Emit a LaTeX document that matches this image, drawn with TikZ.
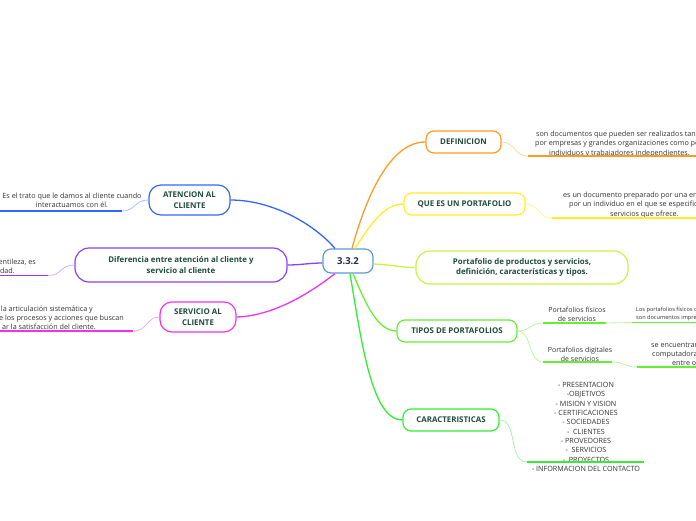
\documentclass[tikz,border=0pt]{standalone}
\usepackage{fontspec}
\setmainfont{Open Sans}
\definecolor{cblue}{HTML}{3366FF}
\definecolor{cpurple}{HTML}{8A3FFC}
\definecolor{cmag}{HTML}{EE33EE}
\definecolor{corange}{HTML}{FF9A22}
\definecolor{cyellow}{HTML}{FFEE22}
\definecolor{clime}{HTML}{C8F542}
\definecolor{cgreen}{HTML}{66EE33}
\definecolor{cgreen2}{HTML}{33EE33}
\definecolor{ccenter}{HTML}{5B9BD5}
\definecolor{boxtext}{HTML}{1E4D3B}
\definecolor{navytext}{HTML}{1F2D4D}
\definecolor{ctext}{HTML}{333333}
\begin{document}
\begin{tikzpicture}[x=1pt,y=-1pt,
  topic/.style={draw, line width=1.2pt, rounded corners=8pt, fill=white, text=boxtext,
    font=\fontsize{7.9}{10.5}\selectfont\bfseries, align=center, inner sep=0pt},
  leaf/.style={text=ctext, font=\fontsize{7.2}{9.2}\selectfont, inner sep=0pt},
  mainline/.style={line width=1.3pt},
  subline/.style={line width=0.8pt},
  uline/.style={line width=1.8pt}]
\useasboundingbox (0,0) rectangle (696,520);
\clip (0,0) rectangle (696,520);

% ---------- topic nodes ----------
\node[topic, draw=ccenter, text=navytext, font=\fontsize{9.5}{11}\selectfont\bfseries,
  minimum width=50pt, minimum height=24pt] (c) at (348,261) {3.3.2};
\node[topic, draw=cblue, rounded corners=12pt, minimum width=81pt, minimum height=30pt]
  (aten) at (189.5,200) {ATENCION AL\\CLIENTE};
\node[topic, draw=cpurple, rounded corners=14pt, minimum width=212pt, minimum height=34pt]
  (dif) at (181,265) {Diferencia entre atención al cliente y\\servicio al cliente};
\node[topic, draw=cmag, rounded corners=12pt, minimum width=76pt, minimum height=30pt]
  (serv) at (198,317) {SERVICIO AL\\CLIENTE};
\node[topic, draw=corange, minimum width=75pt, minimum height=22pt]
  (def) at (463.5,142) {DEFINICION};
\node[topic, draw=cyellow, minimum width=121pt, minimum height=22pt]
  (que) at (464.5,204) {QUE ES UN PORTAFOLIO};
\node[topic, draw=clime, rounded corners=14pt, minimum width=212pt, minimum height=33pt]
  (port) at (522,267.5) {Portafolio de productos y servicios,\\definición, características y tipos.};
\node[topic, draw=cgreen, minimum width=120pt, minimum height=22pt]
  (tipos) at (457,331) {TIPOS DE PORTAFOLIOS};
\node[topic, draw=cgreen2, minimum width=96pt, minimum height=22pt]
  (carac) at (451,420) {CARACTERISTICAS};

% ---------- connectors from centre ----------
\draw[mainline, cblue] ([xshift=-13pt]c.north) .. controls (312,222) and (270,200) .. (aten.east);
\draw[mainline, cpurple] ([yshift=-2pt]c.west) .. controls (310,263) and (300,265) .. (dif.east);
\draw[mainline, cmag] ([xshift=-13pt]c.south) .. controls (305,297) and (270,316) .. (serv.east);
\draw[mainline, corange] ([xshift=4pt]c.north) .. controls (368,190) and (392,142) .. (def.west);
\draw[mainline, cyellow] ([xshift=7pt]c.north) .. controls (372,222) and (385,204) .. (que.west);
\draw[mainline, clime] ([yshift=-3pt]c.east) .. controls (395,265) and (400,267.5) .. (port.west);
\draw[mainline, cgreen] ([xshift=5pt]c.south) .. controls (366,305) and (378,331) .. (tipos.west);
\draw[mainline, cgreen2] ([xshift=2pt]c.south) .. controls (362,345) and (372,420) .. (carac.west);

% ---------- left leaves ----------
\node[leaf, align=center] (atenT) at (72,200.5)
  {Es el trato que le damos al cliente cuando\\interactuamos con él.};
\coordinate (atenU1) at (122,211);
\coordinate (atenU0) at (-3,211);
\draw[uline, cblue] (atenU1) -- (atenU0);
\draw[subline, cblue!40] (aten.west) .. controls (134,200) and (136,211) .. (atenU1);

\node[leaf, align=right, anchor=east] (difT) at (36,266)
  {entileza, es\\idad.\kern21pt};
\coordinate (difU1) at (48,275.5);
\coordinate (difU0) at (-3,275.5);
\draw[uline, cpurple] (difU1) -- (difU0);
\draw[subline, cpurple!40] (dif.west) .. controls (60,265) and (62,275.5) .. (difU1);

\node[leaf, align=right, anchor=east] (servT) at (124,317.5)
  {la articulación sistemática y\kern31pt\\e los procesos y acciones que buscan\\ar la satisfacción del cliente.\kern28pt};
\coordinate (servU1) at (133,331);
\coordinate (servU0) at (-3,331);
\draw[uline, cmag] (servU1) -- (servU0);
\draw[subline, cmag!40] (serv.west) .. controls (146,317) and (148,331) .. (servU1);

% ---------- right leaves ----------
\node[leaf, align=left, anchor=west] (defT) at (535,144)
  {\mbox{}\kern1pt son documentos que pueden ser realizados tanto\\por empresas y grandes organizaciones como por\\\mbox{}\kern14pt individuos y trabajadores independientes.};
\coordinate (defU0) at (528,156);
\coordinate (defU1) at (700,156);
\draw[uline, corange] (defU0) -- (defU1);
\draw[subline, corange!40] (def.east) .. controls (515,142) and (514,156) .. (defU0);

\node[leaf, align=left, anchor=west] (queT) at (563,205)
  {es un documento preparado por una empresa o\\\mbox{}\kern6pt por un individuo en el que se especifican los\\\mbox{}\kern47pt servicios que ofrece.};
\coordinate (queU0) at (552,218);
\coordinate (queU1) at (700,218);
\draw[uline, cyellow] (queU0) -- (queU1);
\draw[subline, cyellow!50] (que.east) .. controls (539,204) and (538,218) .. (queU0);

\node[leaf, font=\fontsize{7}{9}\selectfont, align=center] (fis) at (577,314) {Portafolios físicos\\de servicios};
\coordinate (fisU0) at (543,323);
\coordinate (fisU1) at (606,323);
\draw[uline, cgreen] (fisU0) -- (fisU1);
\draw[subline, cgreen!45] (tipos.east) .. controls (530,331) and (530,323) .. (fisU0);

\node[leaf, font=\fontsize{5.6}{7.6}\selectfont, align=left, anchor=west] (fisT) at (636,314)
  {Los portafolios físicos de servicios\\son documentos impresos};
\coordinate (fisTU0) at (632,322.5);
\coordinate (fisTU1) at (700,322.5);
\draw[uline, cgreen] (fisTU0) -- (fisTU1);
\draw[subline, cgreen!45] (fisU1) .. controls (619,323) and (619,322.5) .. (fisTU0);

\node[leaf, font=\fontsize{7}{9}\selectfont, align=center] (dig) at (580,354.5) {Portafolios digitales\\de servicios};
\coordinate (digU0) at (543,362);
\coordinate (digU1) at (612,362);
\draw[uline, cgreen] (digU0) -- (digU1);
\draw[subline, cgreen!45] (tipos.east) .. controls (532,331) and (528,362) .. (digU0);

\node[leaf, align=left, anchor=west] (digT) at (651,354.5)
  {se encuentran almacenados en\\\mbox{}\kern1pt computadoras, tablets o\\\mbox{}\kern21pt entre otros dispositivos};
\coordinate (digTU0) at (637,367);
\coordinate (digTU1) at (700,367);
\draw[uline, cgreen] (digTU0) -- (digTU1);
\draw[subline, cgreen!45] (digU1) .. controls (625,362) and (624,367) .. (digTU0);

\node[leaf, font=\fontsize{7.2}{9.33}\selectfont, align=center] (caracT) at (586,427)
  {- PRESENTACION\\-OBJETIVOS\\- MISION Y VISION\\- CERTIFICACIONES\\- SOCIEDADES\\-\ \ CLIENTES\\- PROVEDORES\\-\ \ SERVICIOS\\-\ \ PROYECTOS\\- INFORMACION DEL CONTACTO};
\coordinate (caracU0) at (527,462);
\coordinate (caracU1) at (644,462);
\draw[uline, cgreen2] (caracU0) -- (caracU1);
\draw[subline, cgreen2!45] (carac.east) .. controls (518,420) and (508,462) .. (caracU0);
\end{tikzpicture}
\end{document}
